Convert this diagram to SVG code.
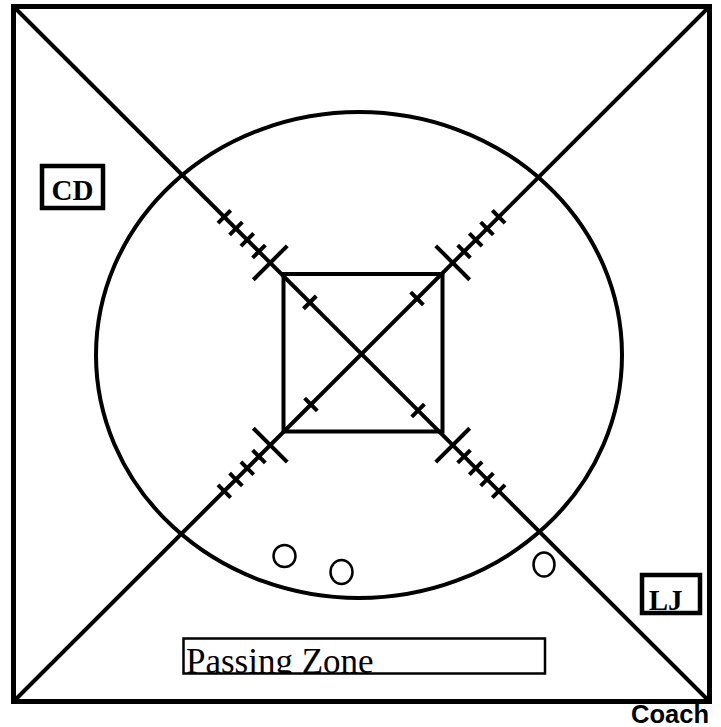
<svg xmlns="http://www.w3.org/2000/svg" width="721" height="727" viewBox="0 0 721 727">
<style>
.s{fill:none;stroke:#000;stroke-width:4}
.t{stroke:#000;stroke-width:4}
.lbl{font-family:"Liberation Serif","Times New Roman",serif;font-weight:bold;font-size:29px;fill:#000}
</style>
<defs>
<clipPath id="pz"><rect x="184" y="639" width="360" height="34"/></clipPath>
</defs>
<rect width="721" height="727" fill="#fff"/>
<g id="field">
<rect x="13.5" y="6.5" width="696" height="695" fill="none" stroke="#000" stroke-width="5"/>
</g>
<g id="connectors">
<line class="t" x1="13.5" y1="6.5" x2="709.5" y2="701.5"/>
<line class="t" x1="709.5" y1="6.5" x2="13.5" y2="701.5"/>
</g>
<g id="circle"><ellipse class="s" cx="359" cy="355" rx="263" ry="243"/></g>
<g id="center-box"><rect class="s" x="283.5" y="274" width="159" height="157.5"/></g>
<g id="ticks-tl-br" transform="translate(361.5,354) rotate(45)">
<line class="t" x1="-73" y1="-9" x2="-73" y2="9"/>
<line class="t" x1="-129" y1="-24" x2="-129" y2="24"/>
<line class="t" x1="-145" y1="-9" x2="-145" y2="9"/>
<line class="t" x1="-161.5" y1="-9" x2="-161.5" y2="9"/>
<line class="t" x1="-177.5" y1="-9" x2="-177.5" y2="9"/>
<line class="t" x1="-194" y1="-9" x2="-194" y2="9"/>
<line class="t" x1="80" y1="-9" x2="80" y2="9"/>
<line class="t" x1="129" y1="-24" x2="129" y2="24"/>
<line class="t" x1="145" y1="-9" x2="145" y2="9"/>
<line class="t" x1="161.5" y1="-9" x2="161.5" y2="9"/>
<line class="t" x1="177.5" y1="-9" x2="177.5" y2="9"/>
<line class="t" x1="194" y1="-9" x2="194" y2="9"/>
</g>
<g id="ticks-tr-bl" transform="translate(361.5,354) rotate(-45)">
<line class="t" x1="78.5" y1="-9" x2="78.5" y2="9"/>
<line class="t" x1="129" y1="-24" x2="129" y2="24"/>
<line class="t" x1="145" y1="-9" x2="145" y2="9"/>
<line class="t" x1="161.5" y1="-9" x2="161.5" y2="9"/>
<line class="t" x1="177.5" y1="-9" x2="177.5" y2="9"/>
<line class="t" x1="194" y1="-9" x2="194" y2="9"/>
<line class="t" x1="-71.5" y1="-9" x2="-71.5" y2="9"/>
<line class="t" x1="-129" y1="-24" x2="-129" y2="24"/>
<line class="t" x1="-145" y1="-9" x2="-145" y2="9"/>
<line class="t" x1="-161.5" y1="-9" x2="-161.5" y2="9"/>
<line class="t" x1="-177.5" y1="-9" x2="-177.5" y2="9"/>
<line class="t" x1="-194" y1="-9" x2="-194" y2="9"/>
</g>
<g id="players">
<ellipse cx="284.5" cy="556" rx="11" ry="11" fill="none" stroke="#000" stroke-width="2.5"/>
<ellipse cx="341.5" cy="572" rx="11" ry="12" fill="none" stroke="#000" stroke-width="2.5"/>
<ellipse cx="544" cy="564.5" rx="10.5" ry="12" fill="none" stroke="#000" stroke-width="2.5"/>
</g>
<g id="cd">
<rect x="42" y="166" width="61" height="42" fill="#fff" stroke="#000" stroke-width="4.5"/>
<text class="lbl" x="72.5" y="199.5" text-anchor="middle">CD</text>
</g>
<g id="lj">
<rect x="642" y="575" width="58" height="38" fill="#fff" stroke="#000" stroke-width="4.5"/>
<text class="lbl" x="665.7" y="609.5" text-anchor="middle" font-size="30">LJ</text>
</g>
<g id="passing-zone">
<rect x="183.5" y="638.5" width="361.5" height="35" fill="#fff" stroke="#000" stroke-width="2.5"/>
<text x="186" y="673" clip-path="url(#pz)" font-family="'Liberation Serif','Times New Roman',serif" font-size="35" fill="#000">Passing Zone</text>
</g>
<g id="coach">
<text x="709" y="723" text-anchor="end" font-family="'Liberation Sans',Arial,sans-serif" font-weight="bold" font-size="25.5" fill="#000">Coach</text>
</g>
</svg>
